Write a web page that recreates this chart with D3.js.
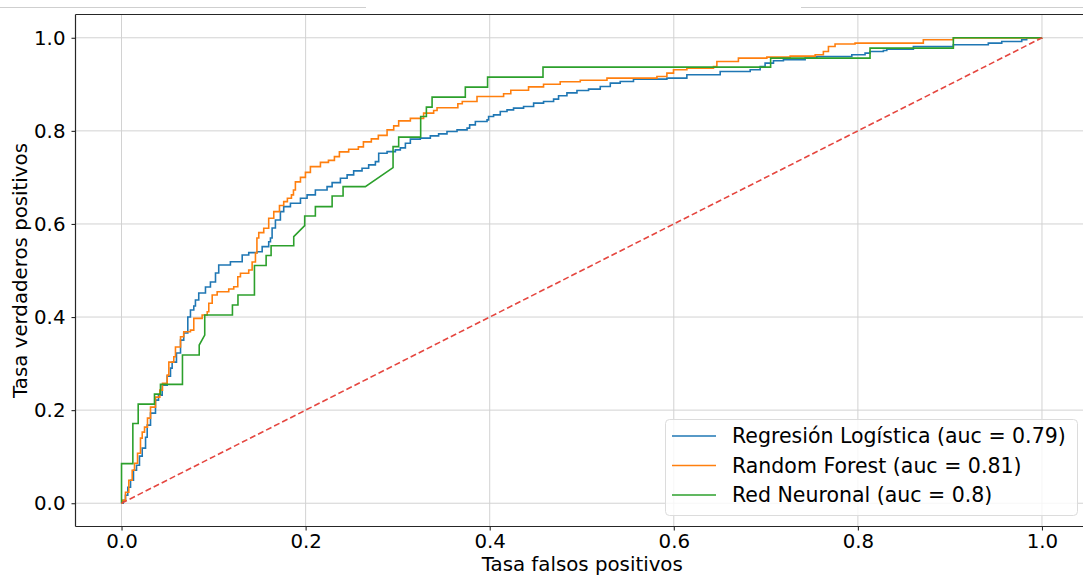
<!DOCTYPE html>
<html>
<head>
<meta charset="utf-8">
<script src="https://cdn.jsdelivr.net/npm/d3@7"></script>
<style>
  html, body { margin: 0; padding: 0; background: #fff; }
  svg { display: block; }
  text { font-family: "DejaVu Sans", sans-serif; fill: #000; }
</style>
</head>
<body>
<svg id="chart" width="1083" height="576"></svg>
<script>
// ROC curves: false positive rate vs true positive rate
const lrFpr = [0,0.0018,0.0043,0.0068,0.0098,0.013,0.0163,0.0195,0.0225,0.0261,0.0279,0.0315,0.0369,0.0402,0.0442,0.0496,0.0532,0.055,0.0597,0.0641,0.0676,0.072,0.0749,0.0785,0.0803,0.0839,0.0912,0.0966,0.1021,0.1056,0.1183,0.1311,0.1382,0.1473,0.1528,0.1599,0.1618,0.1636,0.1672,0.1726,0.1762,0.1835,0.1944,0.2016,0.2106,0.2233,0.2288,0.2378,0.2451,0.2522,0.2613,0.2685,0.2758,0.2794,0.2885,0.2975,0.3029,0.3084,0.3138,0.3246,0.3355,0.3445,0.3536,0.3645,0.3754,0.3782,0.3844,0.3971,0.3988,0.4042,0.4115,0.4188,0.4259,0.4368,0.4477,0.4585,0.4694,0.4748,0.4839,0.4948,0.5074,0.5201,0.531,0.5418,0.5562,0.5925,0.6142,0.6504,0.683,0.6938,0.6992,0.7083,0.7191,0.7427,0.7554,0.7934,0.8078,0.8132,0.8277,0.8314,0.8603,0.9037,0.9417,0.9563,0.978,0.9834,1];
const lrTpr = [0,0.0065,0.0172,0.0344,0.0495,0.071,0.0817,0.1011,0.1183,0.1419,0.1677,0.1935,0.2215,0.2323,0.2538,0.2731,0.2903,0.3032,0.3226,0.3505,0.3656,0.4,0.4151,0.4237,0.4366,0.4516,0.4645,0.4753,0.4946,0.5118,0.5189,0.5333,0.5383,0.5404,0.5512,0.5619,0.5699,0.5914,0.6086,0.6265,0.6372,0.6445,0.6553,0.6624,0.6731,0.6802,0.6888,0.6983,0.7054,0.714,0.7198,0.7269,0.734,0.752,0.7555,0.7591,0.7634,0.7735,0.7822,0.7843,0.7892,0.7935,0.7985,0.8022,0.8058,0.8129,0.82,0.8237,0.8308,0.8344,0.8415,0.8452,0.8488,0.8523,0.8596,0.863,0.8682,0.8753,0.8817,0.8867,0.8897,0.8953,0.9026,0.906,0.9112,0.9133,0.9204,0.9275,0.9312,0.9383,0.9456,0.9505,0.9527,0.9563,0.9598,0.9634,0.9671,0.9705,0.9727,0.9757,0.9813,0.9849,0.9886,0.992,0.9957,0.9994,1];

const rfFpr = [0,0.0008,0.0043,0.0079,0.0116,0.0141,0.0174,0.0206,0.0225,0.025,0.0282,0.0315,0.0369,0.0416,0.0445,0.0496,0.0514,0.0568,0.0586,0.0641,0.0676,0.0749,0.0785,0.0876,0.0931,0.0948,0.0985,0.1039,0.1165,0.1219,0.1263,0.1292,0.1382,0.1419,0.1455,0.1471,0.1491,0.1545,0.1599,0.1654,0.1716,0.1762,0.1802,0.1846,0.1868,0.1889,0.1944,0.1998,0.2052,0.2161,0.2248,0.2313,0.2367,0.2468,0.2573,0.2628,0.2714,0.279,0.2885,0.2957,0.3011,0.3138,0.3282,0.3391,0.3428,0.3654,0.3702,0.3862,0.4151,0.4229,0.4422,0.4585,0.4766,0.4984,0.5274,0.5817,0.5925,0.5997,0.6142,0.6431,0.6468,0.6702,0.7011,0.7264,0.7536,0.7625,0.768,0.7752,0.7969,0.8711,0.9037,1];
const rfTpr = [0,0.0065,0.0237,0.0495,0.071,0.086,0.1075,0.1398,0.1527,0.1634,0.1828,0.2065,0.228,0.243,0.2574,0.2753,0.3032,0.3146,0.3355,0.3576,0.3684,0.372,0.3972,0.4043,0.4114,0.4295,0.4473,0.4544,0.4602,0.4652,0.4867,0.494,0.5011,0.5183,0.5376,0.5699,0.5813,0.5908,0.6123,0.6265,0.6398,0.648,0.6553,0.6624,0.6731,0.6903,0.7,0.7108,0.7232,0.7323,0.7366,0.7447,0.7548,0.7606,0.7656,0.7763,0.7828,0.7903,0.8022,0.8108,0.8215,0.8269,0.8381,0.8437,0.8495,0.8581,0.863,0.8738,0.8796,0.8871,0.8946,0.9,0.9054,0.9086,0.9133,0.9168,0.9241,0.9312,0.9348,0.9383,0.949,0.9563,0.9585,0.9606,0.9634,0.9705,0.9813,0.9865,0.9886,0.9957,0.9994,1];

// neural network curve, given as corner points
const nnFpr = [0,0,0.0123,0.0123,0.0181,0.0181,0.0358,0.0358,0.0423,0.0423,0.0662,0.0662,0.0844,0.0844,0.0904,0.0904,0.1205,0.1205,0.1265,0.1265,0.1444,0.1444,0.1571,0.1571,0.1625,0.1625,0.1871,0.1871,0.199,0.199,0.2106,0.2106,0.2288,0.2288,0.2407,0.2407,0.2649,0.295,0.295,0.3011,0.3011,0.325,0.325,0.3312,0.3312,0.3374,0.3374,0.3735,0.3735,0.3977,0.3977,0.4579,0.4579,0.7052,0.7052,0.8132,0.8132,0.9037,0.9037,1];
const nnTpr = [0,0.085,0.085,0.1714,0.1714,0.2129,0.2129,0.2344,0.2344,0.2553,0.2553,0.3183,0.3183,0.3398,0.3613,0.4043,0.4043,0.4258,0.4258,0.4473,0.4473,0.5108,0.5108,0.5323,0.5323,0.5533,0.5533,0.5727,0.5963,0.6172,0.6172,0.6372,0.6372,0.6602,0.6602,0.6802,0.6802,0.7211,0.7662,0.7662,0.7865,0.7865,0.8308,0.8308,0.851,0.851,0.8725,0.8725,0.894,0.894,0.9155,0.9155,0.937,0.937,0.9563,0.9563,0.9778,0.9778,1,1];

const chanceFpr = [0, 1];
const chanceTpr = [0, 1];

const seriesNames = ["Regresión Logística (auc = 0.79)", "Random Forest (auc = 0.81)", "Red Neuronal (auc = 0.8)"];
const tickValues = [0, 0.2, 0.4, 0.6, 0.8, 1.0];
const xTitle = "Tasa falsos positivos";
const yTitle = "Tasa verdaderos positivos";

const colors = ["#1f77b4", "#ff7f0e", "#2ca02c"];
const chanceColor = "#e5463f";

const svg = d3.select("#chart");
const plotLeft = 75.5, plotRight = 1088, plotTop = 14.5, plotBottom = 526.5;
const fontSize = 19.8;

const x = d3.scaleLinear().domain([-0.05, 1.05]).range([plotLeft, plotRight]);
const y = d3.scaleLinear().domain([-0.05, 1.05]).range([plotBottom, plotTop]);

// faint separator line at the very top
svg.append("line").attr("x1", 0).attr("x2", 366).attr("y1", 7.5).attr("y2", 7.5)
  .attr("stroke", "#cfcfcf").attr("stroke-width", 1);
svg.append("line").attr("x1", 801).attr("x2", 1083).attr("y1", 7.5).attr("y2", 7.5)
  .attr("stroke", "#cfcfcf").attr("stroke-width", 1);

svg.append("defs").append("clipPath").attr("id", "plotClip")
  .append("rect").attr("x", plotLeft).attr("y", plotTop)
  .attr("width", plotRight - plotLeft).attr("height", plotBottom - plotTop);

// grid
const grid = svg.append("g");
tickValues.forEach(t => {
  grid.append("line").attr("x1", x(t)).attr("x2", x(t)).attr("y1", plotTop).attr("y2", plotBottom)
    .attr("stroke", "#d2d2d2").attr("stroke-width", 1);
  grid.append("line").attr("x1", plotLeft).attr("x2", plotRight).attr("y1", y(t)).attr("y2", y(t))
    .attr("stroke", "#d2d2d2").attr("stroke-width", 1);
});

// curves
const plot = svg.append("g").attr("clip-path", "url(#plotClip)");
const zip = (a, b) => a.map((v, i) => [v, b[i]]);

const stepLine = d3.line().x(d => x(d[0])).y(d => y(d[1])).curve(d3.curveStepAfter);
const polyLine = d3.line().x(d => x(d[0])).y(d => y(d[1]));

plot.append("path").datum(zip(lrFpr, lrTpr)).attr("d", stepLine)
  .attr("fill", "none").attr("stroke", colors[0]).attr("stroke-width", 1.6);
plot.append("path").datum(zip(rfFpr, rfTpr)).attr("d", stepLine)
  .attr("fill", "none").attr("stroke", colors[1]).attr("stroke-width", 1.6);
plot.append("path").datum(zip(nnFpr, nnTpr)).attr("d", polyLine)
  .attr("fill", "none").attr("stroke", colors[2]).attr("stroke-width", 1.6);
plot.append("path").datum(zip(chanceFpr, chanceTpr)).attr("d", polyLine)
  .attr("fill", "none").attr("stroke", chanceColor).attr("stroke-width", 1.6)
  .attr("stroke-dasharray", "6,3");

// spines
svg.append("line").attr("x1", plotLeft).attr("x2", plotLeft).attr("y1", plotTop).attr("y2", plotBottom)
  .attr("stroke", "#262626").attr("stroke-width", 1.2);
svg.append("line").attr("x1", plotLeft).attr("x2", plotRight).attr("y1", plotBottom).attr("y2", plotBottom)
  .attr("stroke", "#262626").attr("stroke-width", 1.2);
svg.append("line").attr("x1", plotLeft).attr("x2", plotRight).attr("y1", plotTop).attr("y2", plotTop)
  .attr("stroke", "#262626").attr("stroke-width", 1.2);

// axes
const fmt = d3.format(".1f");
const xAxis = svg.append("g").attr("transform", `translate(0,${plotBottom})`)
  .call(d3.axisBottom(x).tickValues(tickValues).tickFormat(fmt).tickSize(4).tickPadding(3.5));
const yAxis = svg.append("g").attr("transform", `translate(${plotLeft},0)`)
  .call(d3.axisLeft(y).tickValues(tickValues).tickFormat(fmt).tickSize(4).tickPadding(6));
[xAxis, yAxis].forEach(g => {
  g.select(".domain").remove();
  g.selectAll(".tick line").attr("stroke", "#262626").attr("stroke-width", 1.1);
  g.selectAll(".tick text").attr("font-family", "DejaVu Sans").attr("font-size", fontSize).attr("fill", "#000");
});

svg.append("text").attr("x", (x(0) + x(1)) / 2 + 0.5).attr("y", 571.2)
  .attr("text-anchor", "middle").attr("font-size", fontSize).text(xTitle);
svg.append("text").attr("transform", `translate(27,${(plotTop + plotBottom) / 2}) rotate(-90)`)
  .attr("text-anchor", "middle").attr("font-size", fontSize).text(yTitle);

// legend
const lg = svg.append("g");
lg.append("rect").attr("x", 665.5).attr("y", 419.5).attr("width", 412).attr("height", 96)
  .attr("rx", 4).attr("fill", "#fff").attr("fill-opacity", 0.8)
  .attr("stroke", "#dcdcdc").attr("stroke-width", 1);
seriesNames.forEach((name, i) => {
  const yy = 436 + i * 29.5;
  lg.append("line").attr("x1", 672).attr("x2", 716).attr("y1", yy).attr("y2", yy)
    .attr("stroke", colors[i]).attr("stroke-width", 1.6);
  lg.append("text").attr("x", 732).attr("y", yy + 7).attr("font-size", 20.5).text(name);
});
</script>
</body>
</html>
